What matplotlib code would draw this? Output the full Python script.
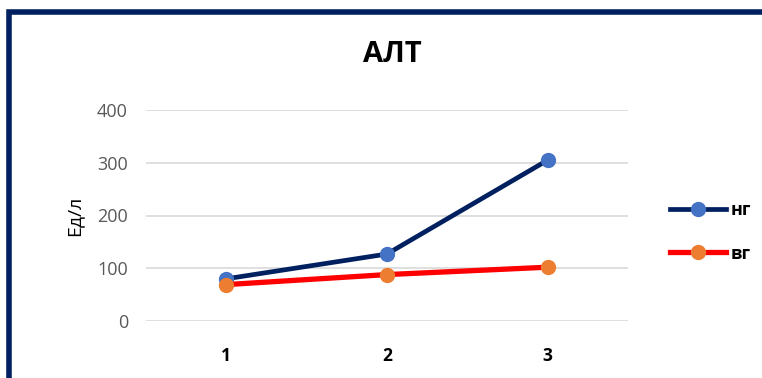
import matplotlib
matplotlib.use("Agg")
import matplotlib.pyplot as plt
from matplotlib.patches import Rectangle
from matplotlib.lines import Line2D

plt.rcParams['font.family'] = ['Open Sans', 'DejaVu Sans']

# data
points = [1, 2, 3]
ng_values = [80, 127, 305]
vg_values = [69, 88, 102]
series_names = ['нг', 'вг']
y_ticks = [0, 100, 200, 300, 400]

W, H = 762, 378
fig = plt.figure(figsize=(W / 100, H / 100), dpi=100)
ax = fig.add_axes([146 / W, 1 - 321 / H, (628 - 146) / W, (321 - 110) / H])

navy = '#002060'
ax.plot(points, ng_values, color=navy, lw=3.4, marker='o', ms=10,
        mfc='#4472C4', mec='#4472C4', solid_capstyle='round', zorder=3)
ax.plot(points, vg_values, color='#FF0000', lw=3.8, marker='o', ms=10,
        mfc='#ED7D31', mec='#ED7D31', solid_capstyle='round', zorder=3)

ax.set_xlim(0.5, 3.5)
ax.set_ylim(0, 400)
ax.set_yticks(y_ticks)
ax.set_xticks(points)
ax.set_xticklabels([str(p) for p in points], fontweight='bold', fontsize=12.5)
ax.tick_params(axis='x', length=0, pad=19, colors='black')
ax.tick_params(axis='y', length=0, pad=13, labelsize=13, colors='#595959')
ax.grid(axis='y', color='#D9D9D9', lw=1.2)
for s in ax.spines.values():
    s.set_visible(False)
ax.set_ylabel('Ед/л', fontsize=14, labelpad=10)

fig.text(392 / W, 1 - 55 / H, 'АЛТ', ha='center', va='center',
         fontsize=21, fontweight='bold')

# legend drawn by hand on the right
handles = [
    Line2D([], [], color=navy, lw=3.4, marker='o', ms=10, mfc='#4472C4', mec='#4472C4'),
    Line2D([], [], color='#FF0000', lw=3.8, marker='o', ms=10, mfc='#ED7D31', mec='#ED7D31'),
]
fig.legend(handles, series_names, loc='center left', bbox_to_anchor=(654 / W, 1 - 232 / H),
           frameon=False, handlelength=3.1, labelspacing=1.4, handletextpad=0.25,
           prop={'weight': 'bold', 'size': 13})

# navy frame (bottom and right sides run off the picture)
fig.patches.append(Rectangle((9 / W, -0.2), 1.2, 1.2 - 12 / H,
                             transform=fig.transFigure, fill=False,
                             ec=navy, lw=4, clip_on=False))

fig.savefig('out.png', dpi=100)
